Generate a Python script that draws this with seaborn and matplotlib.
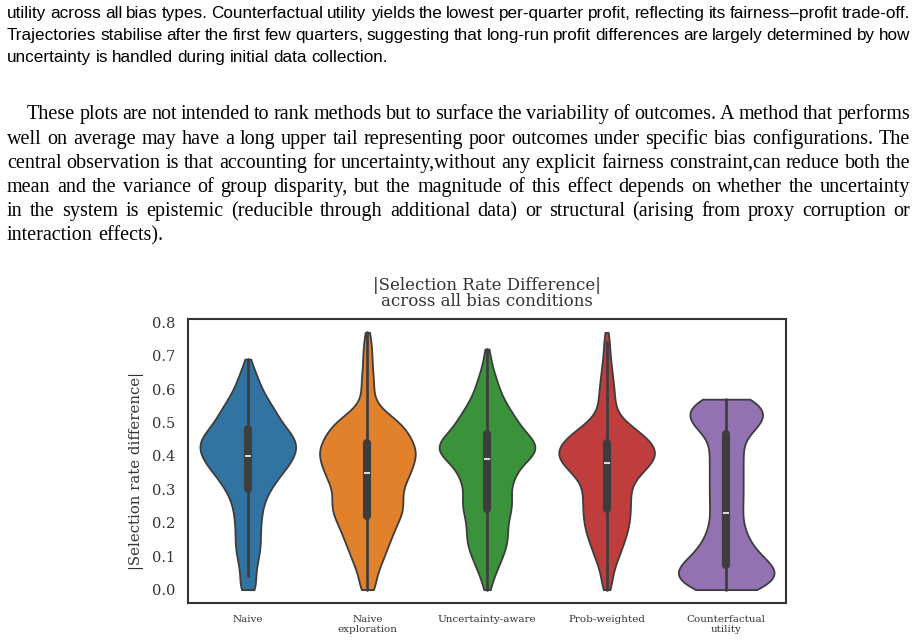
import numpy as np
import pandas as pd
import matplotlib
matplotlib.use('Agg')
import matplotlib.pyplot as plt
import seaborn as sns

# ========== data (frequency tables) ==========
methods = ['Naive', 'Naive exploration', 'Uncertainty-aware', 'Prob-weighted', 'Counterfactual utility']
tick_labels = ['Naive', 'Naive\nexploration', 'Uncertainty-aware', 'Prob-weighted', 'Counterfactual\nutility']

# |selection rate difference| values observed (0.02 steps) and how often each occurs
grid = [0.00, 0.02, 0.04, 0.06, 0.08, 0.10, 0.12, 0.14, 0.16, 0.18,
        0.20, 0.22, 0.24, 0.26, 0.28, 0.30, 0.32, 0.34, 0.36, 0.38,
        0.40, 0.42, 0.44, 0.46, 0.48, 0.50, 0.52, 0.54, 0.56, 0.58,
        0.60, 0.62, 0.64, 0.66, 0.68, 0.70, 0.72, 0.74, 0.76]

naive_values = grid[:35] + [0.69]
naive_counts = [8, 4, 5, 5, 6, 7, 8, 8, 8, 8,
                8, 9, 9, 10, 12, 14, 17, 20, 24, 27,
                30, 31, 32, 29, 25, 21, 19, 17, 14, 11,
                9, 7, 6, 4, 2, 1]

naive_expl_values = grid + [0.77]
naive_expl_counts = [7, 4, 6, 7, 9, 11, 12, 14, 16, 17,
                     19, 22, 23, 23, 22, 22, 24, 27, 28, 30,
                     31, 32, 29, 27, 25, 21, 16, 8, 5, 4,
                     4, 4, 4, 3, 3, 3, 3, 2, 2, 1]

unc_aware_values = grid[:37]
unc_aware_counts = [3, 3, 5, 7, 9, 11, 13, 14, 15, 14,
                    14, 16, 17, 18, 17, 16, 17, 20, 22, 23,
                    36, 35, 36, 30, 24, 22, 19, 16, 13, 10,
                    9, 7, 6, 4, 3, 2, 2]

prob_weighted_values = grid + [0.77]
prob_weighted_counts = [3, 3, 4, 4, 6, 8, 9, 11, 12, 14,
                        14, 15, 15, 15, 15, 15, 16, 19, 25, 29,
                        32, 32, 29, 24, 19, 12, 7, 6, 5, 5,
                        5, 4, 4, 3, 3, 2, 2, 2, 1, 1]

counterfactual_values = grid[:29] + [0.57]
counterfactual_counts = [50, 50, 54, 62, 46, 37, 31, 26, 22, 20,
                         18, 16, 18, 18, 18, 18, 18, 18, 18, 18,
                         18, 18, 18, 18, 32, 41, 44, 41, 33, 25]

caption_lines = [
    "utility across all bias types. Counterfactual utility yields the lowest per-quarter profit, reflecting its fairness\u2013profit trade-off.",
    "Trajectories stabilise after the first few quarters, suggesting that long-run profit differences are largely determined by how",
    "uncertainty is handled during initial data collection.",
]
body_lines = [
    "These plots are not intended to rank methods but to surface the variability of outcomes. A method that performs",
    "well on average may have a long upper tail representing poor outcomes under specific bias configurations. The",
    "central observation is that accounting for uncertainty,without any explicit fairness constraint,can reduce both the",
    "mean and the variance of group disparity, but the magnitude of this effect depends on whether the uncertainty",
    "in the system is epistemic (reducible through additional data) or structural (arising from proxy corruption or",
    "interaction effects).",
]

tables = [(naive_values, naive_counts), (naive_expl_values, naive_expl_counts),
          (unc_aware_values, unc_aware_counts), (prob_weighted_values, prob_weighted_counts),
          (counterfactual_values, counterfactual_counts)]
df = pd.concat([pd.DataFrame({'method': m, 'value': np.repeat(v, c)})
                for m, (v, c) in zip(methods, tables)], ignore_index=True)

# ========== figure ==========
sns.set_style('white')
plt.rcParams['font.family'] = ['DejaVu Serif']

W, H = 917, 643
fig = plt.figure(figsize=(W / 100, H / 100), dpi=100)
renderer = fig.canvas.get_renderer()


def fit_size(lines, starts, x1, size, family, min_gap=0.22):
    # biggest font size that still leaves a normal word gap on every justified line
    best = size
    for line, x0 in zip(lines, starts):
        words = line.split(' ')
        t = fig.text(0, 0, ''.join(words), fontsize=size, family=family)
        wd = t.get_window_extent(renderer).width
        t.remove()
        n = len(words) - 1
        s = (x1 - x0) / (wd / size + n * min_gap * 100 / 72)
        best = min(best, s)
    return best


def put_line(line, y_px, x0, x1, justify, size, family):
    words = line.split(' ')
    objs = [fig.text(0, 1 - y_px / H, w, va='baseline', ha='left', fontsize=size,
                     family=family, color='black') for w in words]
    widths = [o.get_window_extent(renderer).width for o in objs]
    if justify and len(words) > 1:
        gap = (x1 - x0 - sum(widths)) / (len(words) - 1)
    else:
        gap = size * 0.25 * 100 / 72
    x = x0
    for o, w in zip(objs, widths):
        o.set_x(x / W)
        x += w + gap


cap_font = ['Liberation Sans', 'DejaVu Sans']
cap_size = fit_size(caption_lines[:2], [7, 7], 910, 13, cap_font, min_gap=0.25)
for i, (line, y) in enumerate(zip(caption_lines, [18.3, 40, 61.7])):
    put_line(line, y, 7, 910, i < 2, cap_size, cap_font)

body_font = ['Liberation Serif', 'DejaVu Serif']
body_x0 = [27, 7, 7, 7, 7, 7]
body_size = fit_size(body_lines[:-1], body_x0[:-1], 910, 14.5, body_font, min_gap=0.2)
body_y = [119.3, 143.5, 167.7, 192, 216.2, 240.5]
for i, (line, y) in enumerate(zip(body_lines, body_y)):
    put_line(line, y, body_x0[i], 910, i < len(body_lines) - 1, body_size, body_font)

# chart
ax = fig.add_axes([188 / W, 1 - 603 / H, (786 - 188) / W, (603 - 319) / H])
sns.violinplot(data=df, x='method', y='value', hue='method', palette='tab10',
               cut=0, density_norm='width', inner='box', bw_adjust=0.6,
               linewidth=1.3, legend=False, ax=ax)

ax.set_ylim(-0.04, 0.81)
ax.set_xlim(-0.5, 4.5)
ax.set_yticks(np.arange(0, 0.81, 0.1))
ax.set_yticklabels([f'{v:.1f}' for v in np.arange(0, 0.81, 0.1)])
ax.set_xticks(range(len(methods)))
ax.set_xticklabels(tick_labels, fontsize=7.5, color='#333333', linespacing=1.0)
ax.tick_params(axis='y', labelsize=10.5, pad=9, colors='#333333', length=0)
ax.tick_params(axis='x', pad=9, length=0)
ax.set_xlabel('')
ax.set_ylabel('|Selection rate difference|', fontsize=10.7, color='#333333')
ax.yaxis.set_label_coords(-0.073, 0.465)
ax.set_title('|Selection Rate Difference|\nacross all bias conditions', fontsize=12,
             color='#333333', pad=9, linespacing=0.95)
for s in ax.spines.values():
    s.set_visible(True)
    s.set_color('#333333')
    s.set_linewidth(1.5)

fig.savefig('out.png', dpi=100, facecolor='white')
